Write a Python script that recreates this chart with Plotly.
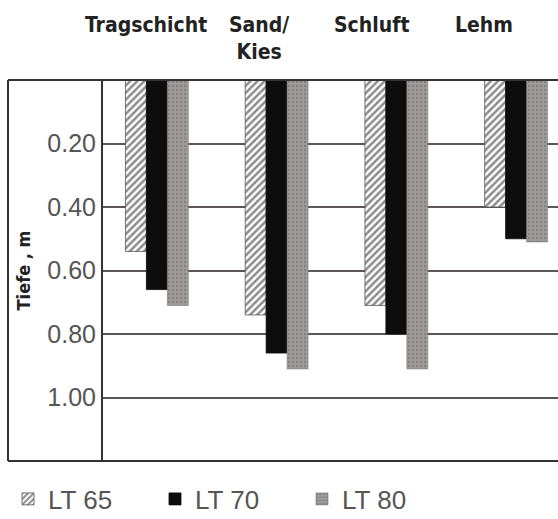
import plotly.graph_objects as go

categories = ["Tragschicht", "Sand/<br>Kies", "Schluft", "Lehm"]
series_names = ["LT 65", "LT 70", "LT 80"]
lt65 = [0.54, 0.74, 0.71, 0.40]
lt70 = [0.66, 0.86, 0.80, 0.50]
lt80 = [0.71, 0.91, 0.91, 0.51]
y_ticks = [0.2, 0.4, 0.6, 0.8, 1.0]
y_ticktext = ["0.20", "0.40", "0.60", "0.80", "1.00"]

cond = "Liberation Sans Narrow, DejaVu Sans Condensed, Arial Narrow, sans-serif"

fig = go.Figure()
fig.add_trace(go.Bar(
    x=categories, y=lt65, name=series_names[0],
    marker=dict(color="white", line=dict(color="#555", width=0.8),
                pattern=dict(shape="/", fgcolor="#1a1a1a", bgcolor="white", size=5, solidity=0.5)),
))
fig.add_trace(go.Bar(
    x=categories, y=lt70, name=series_names[1],
    marker=dict(color="#0d0d0d", line=dict(color="#0d0d0d", width=0.8)),
))
fig.add_trace(go.Bar(
    x=categories, y=lt80, name=series_names[2],
    marker=dict(color="#949090", line=dict(color="#777", width=0.6),
                pattern=dict(shape=".", fgcolor="#6a6666", bgcolor="#a09c9c", size=4, solidity=0.35)),
))

W, H = 558, 519
L, R, T, B = 103, 0, 80, 58
pw = W - L - R
ph = H - T - B

fig.update_layout(
    width=W, height=H,
    margin=dict(l=L, r=R, t=T, b=B, autoexpand=False),
    paper_bgcolor="white", plot_bgcolor="white",
    barmode="group", bargap=0.475, bargroupgap=0,
    showlegend=True,
    legend=dict(orientation="h", x=(8 - L) / pw, xanchor="left",
                y=-(499 - (T + ph)) / ph, yanchor="middle",
                font=dict(family="Liberation Sans, Arial, sans-serif", size=26, color="#555"),
                entrywidth=102, itemwidth=30, traceorder="normal"),
    xaxis=dict(type="category", categoryarray=categories, range=[-0.45, 3.35],
               showticklabels=False, showgrid=False, zeroline=False, showline=False, ticks=""),
    # helper axis carrying the (slightly differently spaced) category headings
    xaxis2=dict(type="category", categoryarray=categories, range=[-0.3815, 3.656],
                overlaying="x", side="top", visible=False, showgrid=False, zeroline=False),
    yaxis=dict(range=[1.2, 0], tickvals=y_ticks, ticktext=y_ticktext, automargin=False,
               tickfont=dict(family="Liberation Sans, Arial, sans-serif", size=25, color="#555"),
               showgrid=True, gridcolor="#5e5656", gridwidth=1.5, zeroline=False,
               showline=True, linecolor="#333", linewidth=2, ticks="",
               title=dict(text="Tiefe , m", standoff=12,
                          font=dict(family=cond, size=18, color="#222", weight="bold"))),
)

# category headings along the top
for c in categories:
    fig.add_annotation(x=c, y=1 + (T - 11) / ph, xref="x2", yref="paper",
                       text=c, showarrow=False, yanchor="top", xanchor="center",
                       font=dict(family=cond, size=21, color="#222", weight="bold"))

# outer frame
x_left = (8 - L) / pw
fig.add_shape(type="line", xref="paper", yref="paper", x0=x_left, x1=1, y0=1, y1=1,
              line=dict(color="#333", width=2))
fig.add_shape(type="line", xref="paper", yref="paper", x0=x_left, x1=1, y0=0, y1=0,
              line=dict(color="#333", width=2))
fig.add_shape(type="line", xref="paper", yref="paper", x0=x_left, x1=x_left, y0=0, y1=1,
              line=dict(color="#333", width=2))

fig.write_html("out.html", config={"displayModeBar": False},
               post_script="document.body.style.margin='0';document.body.style.overflow='hidden';")
